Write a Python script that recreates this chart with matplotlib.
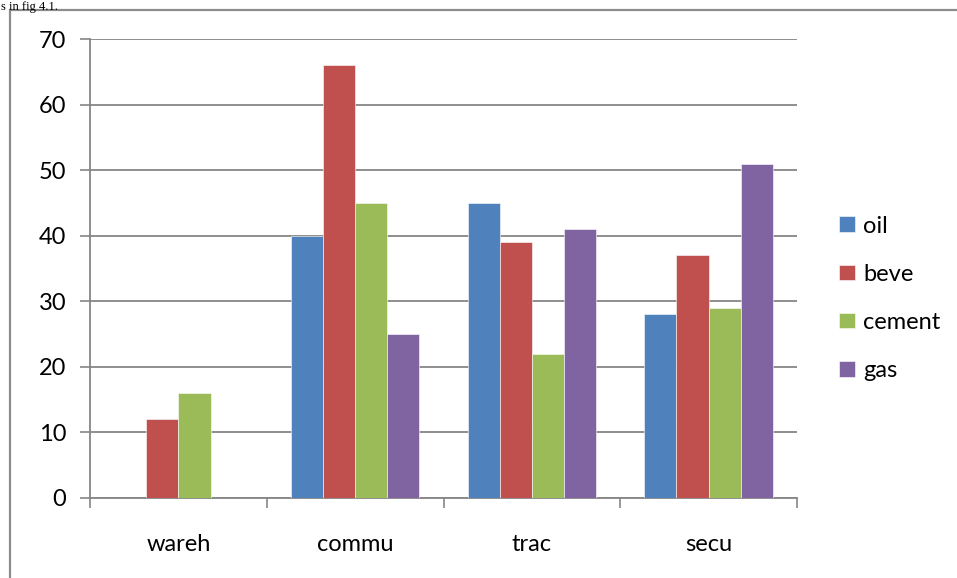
import numpy as np
import matplotlib
matplotlib.use("Agg")
from matplotlib import pyplot as plt
from matplotlib.patches import Rectangle

# data
categories = ["wareh", "commu", "trac", "secu"]
series = ["oil", "beve", "cement", "gas"]
oil = [0, 40, 45, 28]
beve = [12, 66, 39, 37]
cement = [16, 45, 22, 29]
gas = [0, 25, 41, 51]
colors = ["#4F81BD", "#C0504D", "#9BBB59", "#8064A2"]
yticks = [0, 10, 20, 30, 40, 50, 60, 70]

plt.rcParams['font.family'] = ['Lato', 'DejaVu Sans']

W, H = 957, 578
fig = plt.figure(figsize=(W / 100, H / 100), dpi=100)
fig.patch.set_facecolor("white")

# outer chart frame (runs off right and bottom edges)
fig.patches.append(Rectangle((10 / W, -0.1), 1.2, 1 - 10 / H + 0.1,
                             transform=fig.transFigure, fill=False,
                             edgecolor="#8c8c8c", linewidth=1.6))

# caption fragment from the page above
fig.text(1 / W, 1 - 1 / H, "s in fig 4.1.", family="Liberation Serif",
         fontsize=9, va="top", ha="left", color="black")

ax = fig.add_axes([90 / W, 1 - 498 / H, 707 / W, 459 / H])

x = np.arange(len(categories))
bw = 1 / 5.5
values = [oil, beve, cement, gas]
for i, (name, vals) in enumerate(zip(series, values)):
    ax.bar(x + (i - 1.5) * bw, vals, width=bw, color=colors[i], label=name,
           edgecolor="white", linewidth=0.4, zorder=3)

ax.set_xlim(-0.5, len(categories) - 0.5)
ax.set_ylim(0, 70)
ax.set_yticks(yticks)
ax.set_yticklabels([str(v) for v in yticks], fontsize=17)
ax.yaxis.grid(True, color="#868686", linewidth=1.3, zorder=0)

ax.set_xticks(x)
ax.set_xticklabels(categories, fontsize=17)
ax.set_xticks(np.arange(-0.5, len(categories)), minor=True)
ax.tick_params(axis="x", which="major", length=0, pad=26)
ax.tick_params(axis="x", which="minor", length=7, width=1.2, color="#868686")
ax.tick_params(axis="y", length=7, width=1.2, color="#868686", pad=10)

for s in ["top", "right"]:
    ax.spines[s].set_visible(False)
ax.spines["left"].set_color("#868686")
ax.spines["left"].set_linewidth(1.3)
ax.spines["bottom"].set_color("#868686")
ax.spines["bottom"].set_linewidth(1.3)

leg = ax.legend(loc="center left", bbox_to_anchor=(1.03, 0.435), frameon=False,
                fontsize=17, handlelength=0.65, handleheight=0.65,
                handletextpad=0.35, labelspacing=1.15)

fig.savefig("out.png", dpi=100)
